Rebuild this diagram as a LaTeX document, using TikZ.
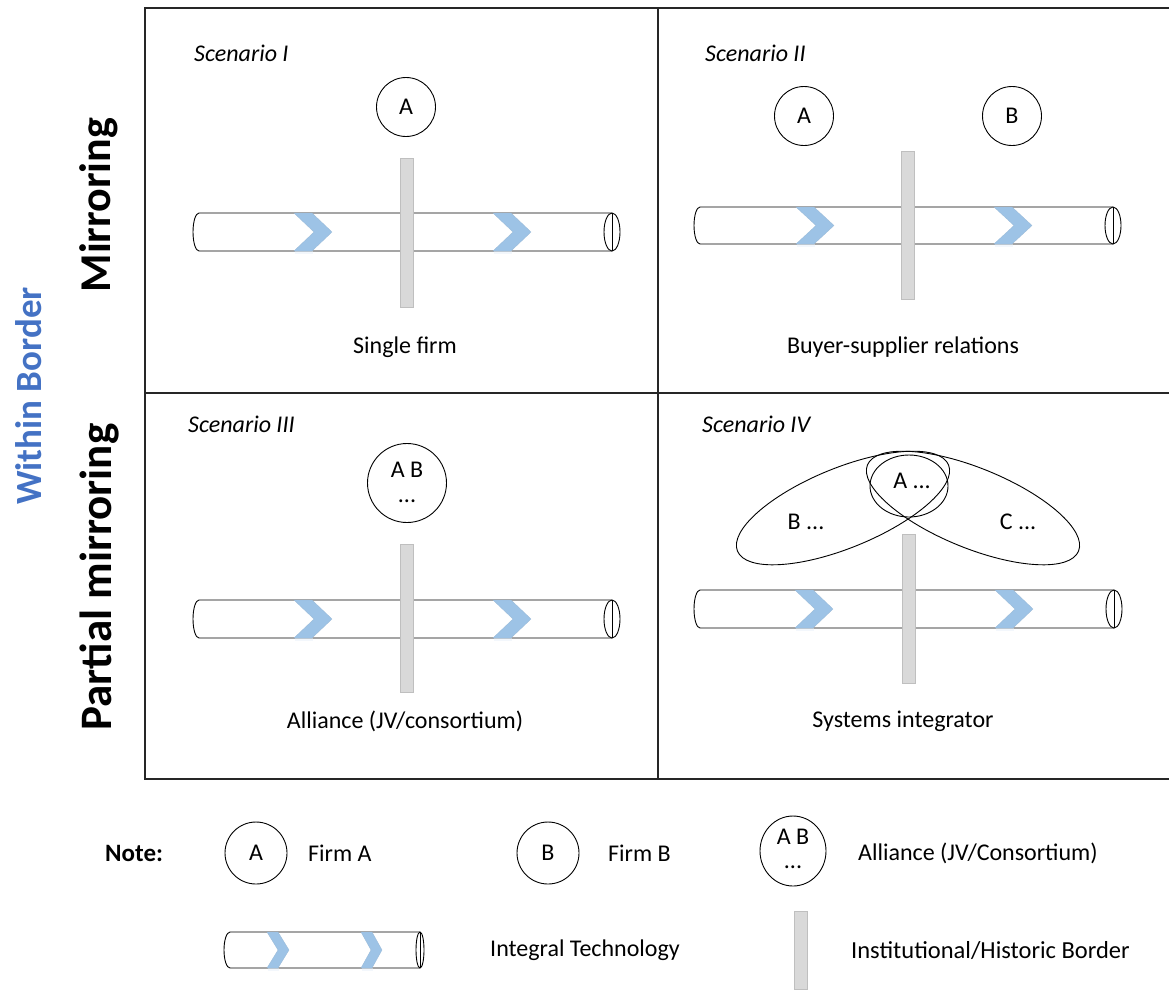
\documentclass[tikz,border=0pt]{standalone}
\usepackage{fontspec}
\setmainfont{Carlito}

\definecolor{chevblue}{HTML}{9DC3E6}
\definecolor{barfill}{HTML}{D9D9D9}
\definecolor{baredge}{HTML}{BFBFBF}
\definecolor{headblue}{HTML}{4472C4}
\definecolor{gridline}{HTML}{262626}

\tikzset{
  pipe/.style={draw=black, line width=0.9pt},
  chevron/.style={fill=chevblue, draw=chevblue!85!gray, line width=0.3pt},
  borderbar/.style={fill=barfill, draw=baredge, line width=0.8pt},
  firm/.style={draw=black, circle, line width=0.9pt, inner sep=0pt, font=\fontsize{24}{26}\selectfont},
  grouping/.style={draw=black, line width=0.9pt},
  body/.style={font=\fontsize{24}{28}\selectfont, inner sep=0pt},
  scen/.style={font=\fontsize{24}{28}\selectfont\itshape, inner sep=0pt, anchor=west},
  rowhead/.style={font=\fontsize{44}{48}\selectfont\bfseries, rotate=90, inner sep=0pt},
}

% technology pipe: #1 left x, #2 right cap centre x, #3 top y, #4 bottom y, #5 cap x radius
\newcommand\techpipe[5]{%
  \pgfmathsetmacro\pipemid{(#3+#4)/2}%
  \pgfmathsetmacro\pipehalf{(#4-#3)/2}%
  \draw[pipe, fill=white] (#2,#3) -- (#1+6,#3)
     arc[start angle=90, end angle=270, x radius=6pt, y radius=\pipehalf pt] -- (#2,#4);
  \draw[pipe, fill=white] (#2,\pipemid) ellipse[x radius=#5 pt, y radius=\pipehalf pt];
  \draw[pipe] (#2,#3) -- (#2,#4);
}

% chevron: #1 left x, #2 top y, #3 bottom y, #4 band width, #5 point depth
\newcommand\chevmark[5]{%
  \pgfmathsetmacro\chevmid{(#2+#3)/2}%
  \fill[chevblue!25, opacity=0.5] (#1+1,#3) rectangle (#1+#4+1,#3+3);
  \filldraw[chevron] (#1,#2) -- (#1+#4,#2) -- (#1+#4+#5,\chevmid) -- (#1+#4,#3)
     -- (#1,#3) -- (#1+#5,\chevmid) -- cycle;
}

% border bar: #1 left x, #2 right x, #3 top y, #4 bottom y
\newcommand\borderbar[4]{%
  \filldraw[borderbar] (#1,#3) rectangle (#2,#4);
}

\begin{document}
\begin{tikzpicture}[x=1pt, y=-1pt]
\useasboundingbox (0,0) rectangle (1169,994);

% ---- matrix frame ----
\draw[gridline, line width=1.3pt] (145,8) rectangle (1171,779);
\draw[gridline, line width=1.3pt] (658,8) -- (658,779);
\draw[gridline, line width=1.3pt] (145,393) -- (1171,393);

% ---- row headings ----
\node[rowhead, text=headblue, font=\fontsize{37}{41}\selectfont\bfseries] (hwithin) at (29,396) {Within Border};
\node[rowhead] (hmirror) at (99,205) {Mirroring};
\node[rowhead, font=\fontsize{45}{49}\selectfont\bfseries] (hpartial) at (99,577) {Partial mirroring};

% ---- Scenario I ----
\node[scen] (t1) at (194,53) {Scenario I};
\node[firm, minimum size=59pt] (s1a) at (406,107) {A};
\techpipe{193}{612}{213}{251}{8}
\chevmark{294}{213}{251}{18}{20}
\chevmark{493}{213}{251}{18}{20}
\borderbar{400}{413}{158}{307}
\node[body] (c1) at (405,347) {Single firm};

% ---- Scenario II ----
\node[scen] (t2) at (705,53) {Scenario II};
\node[firm, minimum size=59pt] (s2a) at (804,116) {A};
\node[firm, minimum size=59pt] (s2b) at (1012,116) {B};
\techpipe{694}{1113}{207}{244}{8}
\chevmark{796}{207}{244}{18}{20}
\chevmark{994}{207}{244}{18}{20}
\borderbar{901}{914}{151}{299}
\node[body] (c2) at (903,347) {Buyer-supplier relations};

% ---- Scenario III ----
\node[scen] (t3) at (188,424) {Scenario III};
\node[firm, minimum size=79pt] (s3ab) at (407,483) {};
\node[body] (s3t) at (407,470) {A B};
\node[body] (s3d) at (407,501) {...};
\techpipe{193}{612}{600}{638}{8}
\chevmark{294}{600}{638}{18}{20}
\chevmark{493}{600}{638}{18}{20}
\borderbar{400}{413}{544}{692}
\node[body] (c3) at (405,721) {Alliance (JV/consortium)};

% ---- Scenario IV ----
\node[scen] (t4) at (702,424) {Scenario IV};
\draw[grouping, rotate around={22.2:(843,508)}] (843,508) ellipse[x radius=114pt, y radius=40pt];
\draw[grouping, rotate around={-22.2:(973,508)}] (973,508) ellipse[x radius=114pt, y radius=40pt];
\draw[grouping] (909,486) ellipse[x radius=39pt, y radius=31pt];
\node[body] (s4a) at (912,481) {A ...};
\node[body] (s4b) at (806,522) {B ...};
\node[body] (s4c) at (1018,522) {C ...};
\techpipe{694}{1114}{590}{628}{8}
\chevmark{795}{590}{628}{18}{20}
\chevmark{995}{590}{628}{18}{20}
\borderbar{902}{915}{534}{683}
\node[body] (c4) at (903,721) {Systems integrator};

% ---- key ----
\node[body, font=\fontsize{25}{29}\selectfont\bfseries, anchor=west] (note) at (105,853) {Note:};
\node[firm, minimum size=62pt] (ka) at (256,853) {A};
\node[body, anchor=west] (kat) at (308,853) {Firm A};
\node[firm, minimum size=62pt] (kb) at (548,853) {B};
\node[body, anchor=west] (kbt) at (608,853) {Firm B};
\draw[grouping] (793,851) ellipse[x radius=33pt, y radius=35pt];
\node[body] (kabt) at (793,837) {A B};
\node[body] (kabd) at (793,867) {...};
\node[body, anchor=west] (kabl) at (858,853) {Alliance (JV/Consortium)};

\techpipe{224}{420}{932}{968}{4}
\chevmark{267}{932}{968}{11}{11}
\chevmark{361}{932}{968}{11}{10}
\node[body, anchor=west] (kpipe) at (490,950) {Integral Technology};
\borderbar{794}{807}{911}{989}
\node[body, anchor=west, font=\fontsize{24.5}{28}\selectfont] (kbar) at (851,950) {Institutional/Historic Border};
\end{tikzpicture}
\end{document}
